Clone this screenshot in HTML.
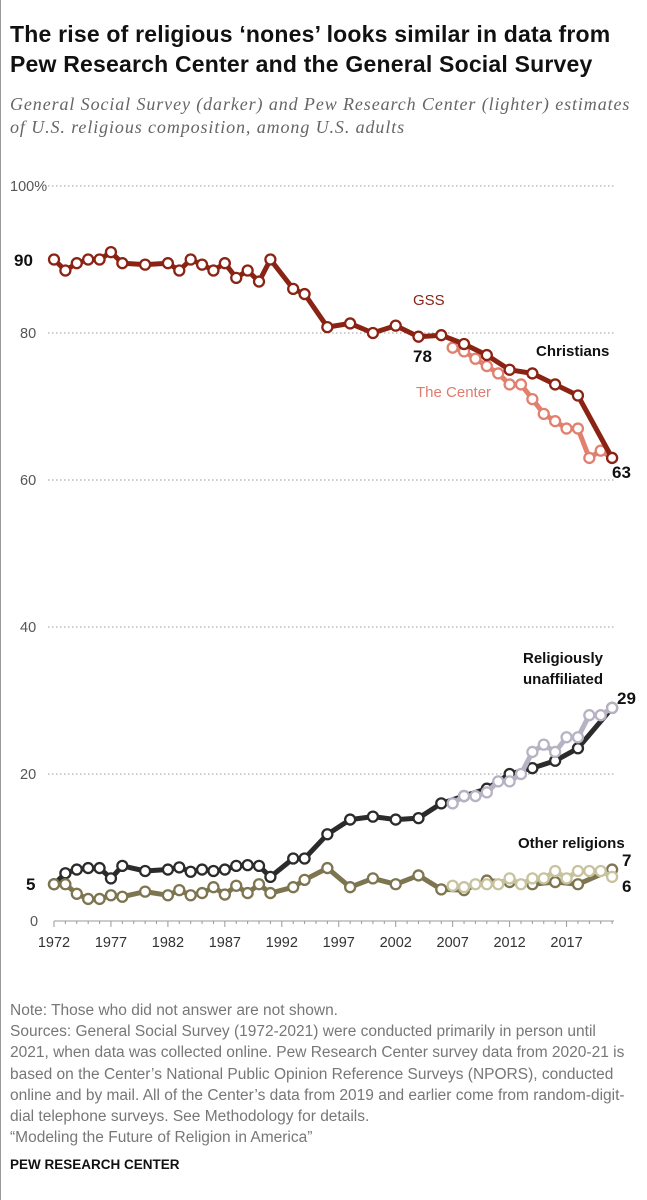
<!DOCTYPE html>
<html><head><meta charset="utf-8"><style>
body{margin:0;width:647px;height:1200px;background:#fff;font-family:"Liberation Sans",sans-serif;position:relative;overflow:hidden}
.t{position:absolute;left:10px;top:19px;font-size:23px;letter-spacing:0.2px;font-weight:bold;line-height:30px;color:#111;white-space:nowrap}
.s{position:absolute;left:10px;top:93px;font-family:"Liberation Serif",serif;font-style:italic;font-size:18px;letter-spacing:0.9px;line-height:23px;color:#666;white-space:nowrap}
.n{position:absolute;left:10px;top:1000px;font-size:15.5px;line-height:21.2px;color:#777;white-space:nowrap}
.f{position:absolute;left:10px;top:1157px;font-size:13.5px;font-weight:bold;color:#111}
svg{position:absolute;left:0;top:0}
</style></head><body>
<div style="position:absolute;left:0;top:0;width:1px;height:1200px;background:#999"></div>
<div class="t">The rise of religious ‘nones’ looks similar in data from<br>Pew Research Center and the General Social Survey</div>
<div class="s">General Social Survey (darker) and Pew Research Center (lighter) estimates<br>of U.S. religious composition, among U.S. adults</div>
<svg id="c" width="647" height="1000" font-family="Liberation Sans, sans-serif">
<g stroke="#999" stroke-dasharray="1.5 2.5" stroke-width="1">
<line x1="48" x2="614" y1="186" y2="186"/><line x1="48" x2="614" y1="333" y2="333"/><line x1="48" x2="614" y1="480" y2="480"/><line x1="48" x2="614" y1="627" y2="627"/><line x1="48" x2="614" y1="774" y2="774"/></g>
<g font-size="14.5" fill="#555">
<text x="10" y="191">100%</text><text x="20" y="338">80</text><text x="20" y="485">60</text><text x="20" y="632">40</text><text x="20" y="779">20</text><text x="30" y="926">0</text>
</g>
<line x1="54" x2="614" y1="921" y2="921" stroke="#999"/>
<g id="ticks" stroke="#999"></g>
<g id="xl" font-size="14.5" fill="#333" text-anchor="middle"></g>
<g id="lines"></g>
<g font-weight="bold" fill="#111">
<text x="14" y="266" font-size="17">90</text>
<text x="413" y="362" font-size="17">78</text>
<text x="612" y="478" font-size="17">63</text>
<text x="536" y="356" font-size="15">Christians</text>
<text x="523" y="663" font-size="15">Religiously</text>
<text x="523" y="684" font-size="15">unaffiliated</text>
<text x="617" y="704" font-size="17">29</text>
<text x="518" y="848" font-size="15">Other religions</text>
<text x="622" y="866" font-size="17">7</text>
<text x="622" y="892" font-size="17">6</text>
<text x="26" y="890" font-size="17">5</text>
</g>
<text x="413" y="305" font-size="15" fill="#8b2314">GSS</text>
<text x="416" y="397" font-size="15" fill="#e07b6e">The Center</text>
</svg>
<div class="n">Note: Those who did not answer are not shown.<br>Sources: General Social Survey (1972-2021) were conducted primarily in person until<br>2021, when data was collected online. Pew Research Center survey data from 2020-21 is<br>based on the Center’s National Public Opinion Reference Surveys (NPORS), conducted<br>online and by mail. All of the Center’s data from 2019 and earlier come from random-digit-<br>dial telephone surveys. See Methodology for details.<br>“Modeling the Future of Religion in America”</div>
<div class="f">PEW RESEARCH CENTER</div>
<script>
var X=function(y){return 54+(y-1972)*11.39},Y=function(v){return 921-7.35*v};
var NS="http://www.w3.org/2000/svg";
var tk=document.getElementById('ticks'),xl=document.getElementById('xl');
for(var y=1972;y<=2021;y++){var l=document.createElementNS(NS,'line');l.setAttribute('x1',X(y));l.setAttribute('x2',X(y));l.setAttribute('y1',921);l.setAttribute('y2',y%5==2?927:924);tk.appendChild(l);
if((y-1972)%5==0&&y<=2017){var t=document.createElementNS(NS,'text');t.setAttribute('x',X(y));t.setAttribute('y',947);t.textContent=y;xl.appendChild(t);}}
var gy=[1972,1973,1974,1975,1976,1977,1978,1980,1982,1983,1984,1985,1986,1987,1988,1989,1990,1991,1993,1994,1996,1998,2000,2002,2004,2006,2008,2010,2012,2014,2016,2018,2021];
var py=[2007,2008,2009,2010,2011,2012,2013,2014,2015,2016,2017,2018,2019,2020,2021];
var S=[
[gy,[90,88.5,89.5,90,90,91,89.5,89.3,89.5,88.5,90,89.3,88.5,89.5,87.5,88.5,87,90,86,85.3,80.8,81.3,80,81,79.5,79.7,78.5,77,75,74.5,73,71.5,63],'#8b2314'],
[py,[78,77.5,76.5,75.5,74.5,73,73,71,69,68,67,67,63,64,63],'#e2806f'],
[gy,[5,6.5,7,7.2,7.2,5.8,7.5,6.8,7,7.3,6.7,7,6.8,7,7.5,7.6,7.5,6,8.5,8.5,11.8,13.8,14.2,13.8,14,16,17,18,20,20.8,21.8,23.5,29],'#2b2b2b'],
[py,[16,17,17,17.5,19,19,20,23,24,23,25,25,28,28,29],'#b7b2c4'],
[gy,[5,5,3.7,3,3,3.5,3.3,4,3.5,4.2,3.5,3.8,4.6,3.6,4.8,3.8,5,3.8,4.6,5.6,7.2,4.6,5.8,5,6.2,4.3,4.2,5.5,5.3,5,5.3,5,7],'#7d7550'],
[py,[4.8,4.6,5,5,5,5.8,5,5.8,5.8,6.8,5.8,6.8,6.8,6.8,6],'#c8c39f']];
var g=document.getElementById('lines');
[1,0,2,3,4,5].forEach(function(i){var s=S[i],d='';
s[0].forEach(function(y,k){d+=(k?'L':'M')+X(y).toFixed(1)+' '+Y(s[1][k]).toFixed(1);});
var p=document.createElementNS(NS,'path');p.setAttribute('d',d);p.setAttribute('fill','none');p.setAttribute('stroke',s[2]);p.setAttribute('stroke-width',5);p.setAttribute('stroke-linejoin','round');g.appendChild(p);
s[0].forEach(function(y,k){var c=document.createElementNS(NS,'circle');c.setAttribute('cx',X(y));c.setAttribute('cy',Y(s[1][k]));c.setAttribute('r',5);c.setAttribute('fill','#fff');c.setAttribute('stroke',s[2]);c.setAttribute('stroke-width',2.3);g.appendChild(c);});});
</script>
</body></html>
